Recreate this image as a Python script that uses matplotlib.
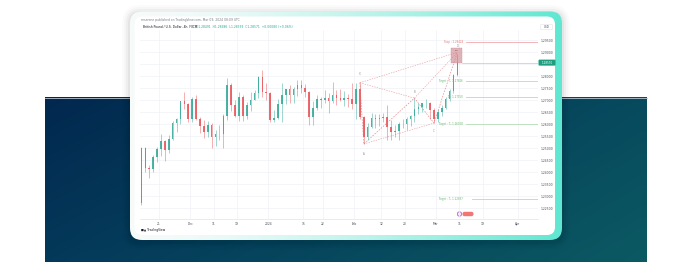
import numpy as np
import matplotlib
matplotlib.use("Agg")
import matplotlib.pyplot as plt
from matplotlib.patches import FancyBboxPatch, Rectangle, Circle
from matplotlib.colors import to_rgb

# ---------------- data (GBP/USD, one candle per trading day) ----------------
dates = ["Nov14", "Nov15", "Nov16", "Nov17", "Nov20", "Nov21", "Nov22", "Nov23", "Nov24",
         "Nov27", "Nov28", "Nov29", "Nov30", "Dec01", "Dec04", "Dec05", "Dec06", "Dec07",
         "Dec08", "Dec11", "Dec12", "Dec13", "Dec14", "Dec15", "Dec18", "Dec19", "Dec20",
         "Dec21", "Dec22", "Dec26", "Dec27", "Dec28", "Dec29", "Jan02", "Jan03", "Jan04",
         "Jan05", "Jan08", "Jan09", "Jan10", "Jan11", "Jan12", "Jan15", "Jan16", "Jan17",
         "Jan18", "Jan19", "Jan22", "Jan23", "Jan24", "Jan25", "Jan26", "Jan29", "Jan30",
         "Jan31", "Feb01", "Feb02", "Feb05", "Feb06", "Feb07", "Feb08", "Feb09", "Feb12",
         "Feb13", "Feb14", "Feb15", "Feb16", "Feb19", "Feb20", "Feb21", "Feb22", "Feb23",
         "Feb26", "Feb27", "Feb28", "Feb29", "Mar01", "Mar04", "Mar05", "Mar06", "Mar07",
         "Mar08"]
opens = [1.2272, 1.2500, 1.2417, 1.2412, 1.2462, 1.2496, 1.2529, 1.2492, 1.2540,
         1.2604, 1.2620, 1.2695, 1.2684, 1.2622, 1.2707, 1.2624, 1.2593, 1.2568,
         1.2596, 1.2547, 1.2559, 1.2560, 1.2633, 1.2764, 1.2680, 1.2634, 1.2714,
         1.2636, 1.2680, 1.2700, 1.2730, 1.2795, 1.2733, 1.2730, 1.2618, 1.2625,
         1.2686, 1.2720, 1.2747, 1.2721, 1.2748, 1.2764, 1.2752, 1.2733, 1.2630,
         1.2668, 1.2705, 1.2700, 1.2710, 1.2695, 1.2720, 1.2710, 1.2703, 1.2710,
         1.2707, 1.2686, 1.2745, 1.2632, 1.2547, 1.2590, 1.2626, 1.2622, 1.2627,
         1.2630, 1.2590, 1.2567, 1.2574, 1.2600, 1.2600, 1.2624, 1.2633, 1.2664,
         1.2672, 1.2687, 1.2690, 1.2660, 1.2623, 1.2653, 1.2669, 1.2707, 1.2738,
         1.2806]
highs = [1.2506, 1.2504, 1.2430, 1.2473, 1.2505, 1.2560, 1.2533, 1.2555, 1.2615,
         1.2627, 1.2698, 1.2733, 1.2689, 1.2715, 1.2720, 1.2630, 1.2617, 1.2615,
         1.2604, 1.2575, 1.2599, 1.2641, 1.2793, 1.2771, 1.2700, 1.2733, 1.2722,
         1.2692, 1.2733, 1.2744, 1.2802, 1.2827, 1.2774, 1.2736, 1.2661, 1.2706,
         1.2771, 1.2749, 1.2765, 1.2756, 1.2785, 1.2785, 1.2767, 1.2738, 1.2696,
         1.2720, 1.2714, 1.2743, 1.2732, 1.2775, 1.2744, 1.2745, 1.2738, 1.2726,
         1.2773, 1.2772, 1.2773, 1.2635, 1.2605, 1.2645, 1.2643, 1.2643, 1.2645,
         1.2680, 1.2617, 1.2599, 1.2611, 1.2620, 1.2630, 1.2637, 1.2709, 1.2688,
         1.2690, 1.2707, 1.2691, 1.2669, 1.2665, 1.2680, 1.2712, 1.2749, 1.2809,
         1.2894]
lows = [1.2265, 1.2402, 1.2375, 1.2400, 1.2445, 1.2468, 1.2448, 1.2480, 1.2535,
        1.2569, 1.2600, 1.2664, 1.2611, 1.2611, 1.2617, 1.2565, 1.2542, 1.2545,
        1.2501, 1.2511, 1.2535, 1.2500, 1.2618, 1.2657, 1.2629, 1.2612, 1.2612,
        1.2620, 1.2655, 1.2700, 1.2710, 1.2712, 1.2703, 1.2610, 1.2611, 1.2620,
        1.2611, 1.2685, 1.2688, 1.2690, 1.2716, 1.2730, 1.2715, 1.2597, 1.2597,
        1.2661, 1.2667, 1.2688, 1.2648, 1.2689, 1.2680, 1.2695, 1.2675, 1.2674,
        1.2664, 1.2622, 1.2621, 1.2518, 1.2536, 1.2584, 1.2585, 1.2592, 1.2610,
        1.2535, 1.2536, 1.2548, 1.2536, 1.2584, 1.2576, 1.2594, 1.2609, 1.2643,
        1.2650, 1.2668, 1.2622, 1.2605, 1.2611, 1.2635, 1.2665, 1.2696, 1.2730,
        1.2800]
closes = [1.2500, 1.2417, 1.2412, 1.2462, 1.2496, 1.2529, 1.2492, 1.2540, 1.2604,
          1.2620, 1.2695, 1.2684, 1.2622, 1.2707, 1.2624, 1.2593, 1.2568, 1.2596,
          1.2547, 1.2559, 1.2560, 1.2633, 1.2764, 1.2680, 1.2634, 1.2714, 1.2636,
          1.2680, 1.2700, 1.2730, 1.2795, 1.2733, 1.2730, 1.2618, 1.2625, 1.2686,
          1.2720, 1.2747, 1.2721, 1.2748, 1.2764, 1.2752, 1.2733, 1.2630, 1.2668,
          1.2705, 1.2700, 1.2710, 1.2695, 1.2720, 1.2710, 1.2703, 1.2710, 1.2707,
          1.2686, 1.2745, 1.2632, 1.2547, 1.2590, 1.2626, 1.2622, 1.2627, 1.2630,
          1.2590, 1.2567, 1.2574, 1.2600, 1.2600, 1.2624, 1.2633, 1.2664, 1.2672,
          1.2687, 1.2690, 1.2660, 1.2623, 1.2653, 1.2669, 1.2707, 1.2738, 1.2806,
          1.2857]

price_ticks = [1.225, 1.230, 1.235, 1.240, 1.245, 1.250, 1.255, 1.260, 1.265,
               1.270, 1.275, 1.280, 1.290, 1.295]
date_tick_labels = ["21", "Dec", "11", "19", "2024", "15", "22", "Feb", "12", "20",
                    "Mar", "11", "19", "Apr"]
date_tick_days = [0, 8, 14, 20, 28, 37, 42, 50, 57, 63, 71, 77, 83, 92]  # trading days from Nov 21

pattern_labels = ["X", "A", "B", "C", "D"]
pattern_index = [56, 57, 70, 75, 81]
pattern_prices = [1.2773, 1.2518, 1.2709, 1.2605, 1.2900]

stop_price = 1.29424
target_names = ["Target : T\u2081", "T\u2082 :", "Target : T\u2083", "Target : T\u2084"]
target_prices = [1.27816, 1.27150, 1.26008, 1.22887]
zone_low, zone_high = 1.2855, 1.2918

# ---------------- figure ----------------
W, H = 684, 262
fig = plt.figure(figsize=(W / 100, H / 100), dpi=100)
fig.patch.set_facecolor("white")
bg = fig.add_axes([0, 0, 1, 1])
bg.set_xlim(0, W)
bg.set_ylim(H, 0)
bg.axis("off")

# dark band with gradient
c_tl, c_tr = np.array(to_rgb("#02284f")), np.array(to_rgb("#074a5e"))
c_bl, c_br = np.array(to_rgb("#04395a")), np.array(to_rgb("#0b5962"))
gx = np.linspace(0, 1, 64)[None, :, None]
gy = np.linspace(0, 1, 32)[:, None, None]
band = (1 - gy) * ((1 - gx) * c_tl + gx * c_tr) + gy * ((1 - gx) * c_bl + gx * c_br)
bg.imshow(band, extent=[45, 647, 262, 97.5], aspect="auto", interpolation="bilinear", zorder=1)
bg.plot([45, 647], [97.8, 97.8], color="#b9c6d0", lw=0.6, zorder=2)

# card shadow
for i, a in enumerate([0.04, 0.03, 0.02, 0.015]):
    sh = FancyBboxPatch((130 - 2 - i * 2, 12 - 1 - i * 2), 432 + 4 + i * 4, 229 + 4 + i * 4,
                        boxstyle="round,pad=0,rounding_size=%d" % (13 + i * 2),
                        facecolor="black", edgecolor="none", alpha=a, zorder=3)
    bg.add_patch(sh)

# card frame with horizontal gradient
frame = FancyBboxPatch((130, 11.5), 432, 228.5, boxstyle="round,pad=0,rounding_size=12",
                       facecolor="none", edgecolor="none", transform=bg.transData)
bg.add_patch(frame)
t = np.linspace(0, 1, 256) ** 1.6
c0, c1 = np.array(to_rgb("#f7fbfa")), np.array(to_rgb("#5fe7d1"))
grad = (1 - t)[None, :, None] * c0 + t[None, :, None] * c1
im = bg.imshow(grad, extent=[130, 562, 240, 11.5], aspect="auto", interpolation="bilinear", zorder=4)
im.set_clip_path(frame)
inner = FancyBboxPatch((134.5, 16.5), 420.5, 218.5, boxstyle="round,pad=0,rounding_size=8",
                       facecolor="white", edgecolor="none", zorder=5)
bg.add_patch(inner)

# header texts
bg.text(141, 20.5, "mserene published on TradingView.com, Mar 09, 2024 08:09 UTC",
        fontsize=2.2, color="#787b86", va="center", zorder=6)
bg.text(143, 27, "British Pound / U.S. Dollar, 4h, FXCM", fontsize=2.2, color="#131722",
        va="center", zorder=6)
bg.text(196, 27, "O1.28491  H1.28986  L1.28339  C1.28571  +0.00080 (+0.06%)", fontsize=2.2,
        color="#26a69a", va="center", zorder=6)
bg.text(141, 230.5, "\u25a0\u25b2 TradingView", fontsize=2.2, color="#131722", va="center", zorder=6)

# ---------------- chart axes ----------------
x0, x1, y0, y1 = 140, 538, 30, 219
ax = fig.add_axes([x0 / W, (H - y1) / H, (x1 - x0) / W, (y1 - y0) / H])
ax.set_facecolor("none")
ax.set_zorder(10)

px_per_day = 3.9
day0_px = 159
xl = (x0 - day0_px) / px_per_day
xr = (x1 - day0_px) / px_per_day
p_per_px = 0.005 / 12.0
y_top = 1.295 + (40.3 - y0) * p_per_px
y_bot = 1.295 - (y1 - 40.3) * p_per_px
ax.set_xlim(xl, xr)
ax.set_ylim(y_bot, y_top)

n = len(closes)
xs = np.arange(n) - 5 + 0.5
o = np.array(opens); c = np.array(closes); hi = np.array(highs); lo = np.array(lows)
up = c >= o
cols = np.where(up, "#3aab9a", "#ea5a5e")
ax.vlines(xs, lo, hi, colors=cols, lw=0.4, alpha=0.85, zorder=3)
body = np.where(np.abs(c - o) < 0.00012, 0.00012, c - o)
ax.bar(xs, body, bottom=o, width=0.42, color=cols, edgecolor="none", alpha=0.9, zorder=4)

# grid / ticks
ax.set_yticks(price_ticks)
ax.set_yticklabels(["%.5f" % p for p in price_ticks])
ax.yaxis.tick_right()
ax.set_xticks(date_tick_days)
ax.set_xticklabels(date_tick_labels)
ax.tick_params(axis="both", length=0, labelsize=2.2, labelcolor="#4a4e59", pad=2)
for p in price_ticks + [1.285, 1.300]:
    ax.axhline(p, color="#f0f2f5", lw=0.5, zorder=0)
for d in date_tick_days:
    ax.axvline(d, color="#f0f2f5", lw=0.5, zorder=0)
for s in ["top", "left", "right"]:
    ax.spines[s].set_visible(False)
ax.spines["bottom"].set_color("#e0e3eb")
ax.spines["bottom"].set_linewidth(0.5)

# XABCD pattern
px_ = [xs[i] for i in pattern_index]
pp = pattern_prices
pat_col = "#e57373"
ls = (0, (2.5, 2))
ax.plot(px_, pp, color=pat_col, lw=0.45, ls=ls, zorder=5, alpha=0.9)
for a, b in [(0, 2), (1, 3), (2, 4), (0, 4)]:
    ax.plot([px_[a], px_[b]], [pp[a], pp[b]], color=pat_col, lw=0.4, ls=ls, alpha=0.75, zorder=5)
offs = [0.0035, -0.004, 0.0025, -0.0035, 0.0025]
for lab, xx, yy, off in zip(pattern_labels, px_, pp, offs):
    ax.text(xx, yy + off, lab, fontsize=1.8, color="#8a8a8a", ha="center", va="center", zorder=6)

last_x = xs[-1]
# entry zone
ax.add_patch(Rectangle((last_x - 1.5, zone_low), 2.6, zone_high - zone_low,
                       facecolor="#d8a2a8", edgecolor="#c98c93", lw=0.3, alpha=0.8, zorder=2))
ax.text(last_x - 0.2, zone_high - 0.0012, "Sell", fontsize=1.6, color="#8a4a52",
        ha="center", va="center", zorder=6)

# stop and target lines
ax.plot([last_x + 2.2, xr], [stop_price, stop_price], color="#f3a8ae", lw=0.6, zorder=2)
ax.text(last_x + 1.4, stop_price, "Stop : %.5f" % stop_price, fontsize=1.9, color="#e57373",
        ha="right", va="center", zorder=6)
for i, (nm, tp) in enumerate(zip(target_names, target_prices)):
    start = last_x + (3.8 if i == 3 else 2.2)
    ax.plot([start, xr], [tp, tp], color="#b5dcb7", lw=0.6, zorder=2)
    ax.text(last_x + 1.4, tp, "%s %.5f" % (nm, tp), fontsize=1.9, color="#66bb6a",
            ha="right", va="center", zorder=6)

# current price line
last_close = closes[-1]
ax.plot([last_x + 1.1, xr], [last_close, last_close], color="#a9cdee", lw=0.5, zorder=2)

# right-side price badge and currency label
yb = 40.3 + (1.295 - last_close) / p_per_px
bg.add_patch(FancyBboxPatch((538.5, yb - 3), 17, 6, boxstyle="round,pad=0,rounding_size=1",
                            facecolor="#1f9d7f", edgecolor="none", zorder=20))
bg.text(547, yb, "%.5f" % last_close, fontsize=2.0, color="white", ha="center",
        va="center", zorder=21)
bg.add_patch(FancyBboxPatch((540.5, 24.5), 12, 5, boxstyle="round,pad=0,rounding_size=1",
                            facecolor="white", edgecolor="#d6d9e0", lw=0.3, zorder=20))
bg.text(546.5, 27, "USD", fontsize=2.0, color="#4a4e59", ha="center", va="center", zorder=21)

# event badges near the bottom
bg.add_patch(Circle((459.5, 214), 2.2, facecolor="#f3e5f5", edgecolor="#9c27b0", lw=0.4, zorder=20))
bg.add_patch(FancyBboxPatch((462.5, 211.8), 11, 4.4, boxstyle="round,pad=0,rounding_size=2",
                            facecolor="#ef5350", edgecolor="none", alpha=0.8, zorder=20))

fig.savefig("out.png", dpi=100, facecolor="white")
